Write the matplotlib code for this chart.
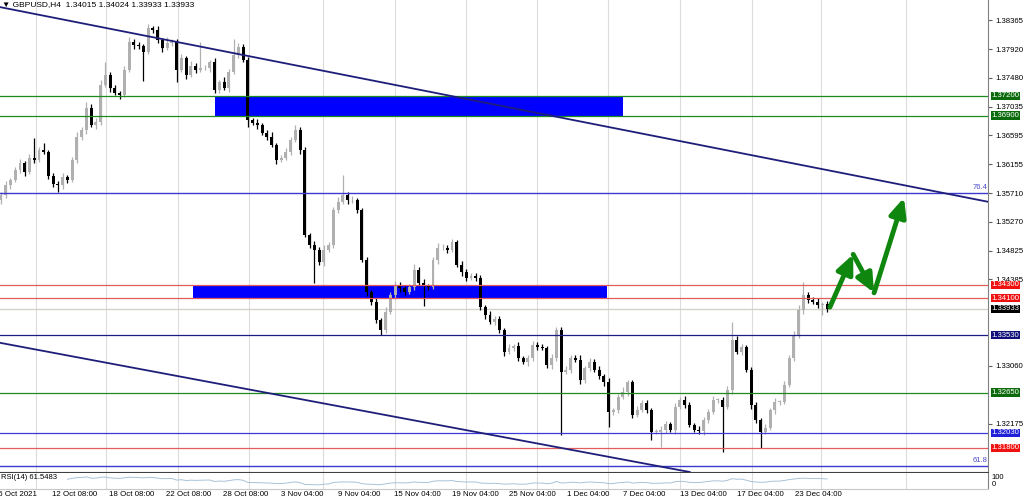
import numpy as np
import pandas as pd
import matplotlib
matplotlib.use("Agg")
import matplotlib.pyplot as plt
from matplotlib.patches import Rectangle
from matplotlib.transforms import blended_transform_factory

# GBPUSD H4, each drawn candle stands for about two H4 bars
first_open = 1.3560
closes = [
    1.3568, 1.3583, 1.3591, 1.3606, 1.3617, 1.3603, 1.3625, 1.3622, 1.3637, 1.3634,
    1.3597, 1.3585, 1.3583, 1.3596, 1.3591, 1.3622, 1.3657, 1.3668, 1.3702, 1.3675,
    1.3680, 1.3737, 1.3752, 1.3732, 1.3725, 1.3721, 1.3760, 1.3803, 1.3798, 1.3797,
    1.3787, 1.3824, 1.3821, 1.3806, 1.3794, 1.3801, 1.3803, 1.3760, 1.3778, 1.3752,
    1.3766, 1.3760, 1.3763, 1.3763, 1.3772, 1.3729, 1.3741, 1.3732, 1.3757, 1.3783,
    1.3795, 1.3775, 1.3683, 1.3679, 1.3675, 1.3663, 1.3657, 1.3645, 1.3622, 1.3625,
    1.3634, 1.3652, 1.3668, 1.3637, 1.3507, 1.3491, 1.3484, 1.3465, 1.3484, 1.3491,
    1.3545, 1.3557, 1.3568, 1.3560, 1.3560, 1.3545, 1.3468, 1.3419, 1.3404, 1.3376,
    1.3361, 1.3389, 1.3415, 1.3430, 1.3425, 1.3419, 1.3427, 1.3453, 1.3433, 1.3428,
    1.3427, 1.3468, 1.3487, 1.3487, 1.3484, 1.3496, 1.3461, 1.3450, 1.3441, 1.3444,
    1.3441, 1.3396, 1.3384, 1.3373, 1.3378, 1.3361, 1.3327, 1.3333, 1.3336, 1.3318,
    1.3312, 1.3318, 1.3338, 1.3335, 1.3333, 1.3307, 1.3318, 1.3361, 1.3297, 1.3300,
    1.3318, 1.3315, 1.3284, 1.3303, 1.3312, 1.3300, 1.3290, 1.3281, 1.3235, 1.3238,
    1.3258, 1.3266, 1.3281, 1.3231, 1.3238, 1.3249, 1.3238, 1.3205, 1.3205, 1.3208,
    1.3217, 1.3208, 1.3243, 1.3254, 1.3246, 1.3215, 1.3208, 1.3206, 1.3223, 1.3235,
    1.3254, 1.3254, 1.3243, 1.3269, 1.3346, 1.3327, 1.3335, 1.3300, 1.3246, 1.3223,
    1.3205, 1.3211, 1.3238, 1.3251, 1.3251, 1.3277, 1.3318, 1.3353, 1.3392, 1.3415,
    1.3407, 1.3404, 1.3399, 1.3401, 1.33933,
]
# wick lengths in pips above / below the body
up_wick = [
    4, 6, 3, 5, 7, 3, 6, 30, 4, 11, 3, 5, 4, 6, 3, 5, 7, 4, 9, 5, 6, 8, 20, 4, 5,
    3, 6, 8, 4, 5, 3, 7, 4, 6, 3, 9, 5, 4, 6, 3, 7, 4, 40, 5, 3, 6, 4, 8, 5, 25,
    6, 4, 5, 3, 6, 4, 5, 7, 3, 4, 6, 5, 8, 4, 5, 3, 6, 4, 7, 5, 4, 8, 31, 5, 6,
    4, 3, 5, 4, 6, 3, 7, 5, 6, 4, 3, 5, 9, 4, 6, 3, 5, 8, 6, 4, 5, 3, 6, 4, 5,
    4, 5, 3, 6, 4, 5, 3, 6, 4, 7, 3, 5, 6, 4, 5, 3, 6, 5, 4, 6, 5, 4, 7, 3, 6,
    4, 5, 3, 6, 4, 5, 7, 4, 3, 6, 4, 5, 3, 4, 6, 5, 3, 6, 4, 5, 4, 3, 6, 5, 4,
    5, 3, 4, 6, 27, 5, 4, 3, 4, 5, 3, 6, 4, 5, 3, 5, 4, 6, 8, 20, 5, 4, 6, 3, 4,
]
down_wick = [
    6, 4, 5, 3, 4, 6, 3, 5, 4, 3, 5, 4, 11, 6, 4, 3, 5, 4, 6, 3, 5, 4, 3, 6, 4,
    5, 3, 4, 6, 5, 44, 3, 5, 4, 6, 3, 5, 19, 4, 6, 3, 5, 4, 3, 6, 4, 5, 3, 6, 4,
    5, 3, 10, 4, 6, 3, 5, 4, 6, 3, 4, 5, 3, 6, 4, 5, 51, 4, 6, 3, 5, 4, 3, 6, 4,
    5, 3, 6, 4, 5, 8, 4, 3, 6, 5, 4, 3, 5, 4, 31, 5, 3, 6, 4, 5, 3, 4, 6, 5, 3,
    5, 4, 6, 3, 5, 4, 6, 3, 5, 4, 3, 6, 4, 5, 3, 4, 6, 5, 97, 4, 5, 3, 6, 4, 5,
    3, 4, 6, 23, 5, 4, 3, 6, 5, 4, 3, 5, 13, 4, 24, 5, 3, 6, 4, 5, 3, 4, 5, 6, 4,
    3, 5, 69, 4, 6, 3, 5, 4, 6, 5, 25, 4, 3, 6, 5, 4, 3, 5, 4, 6, 5, 3, 4, 15, 4,
]

# horizontal levels and their label colours
level_prices = [1.37200, 1.36900, 1.34300, 1.34100, 1.33530, 1.32650, 1.32030, 1.31800]
level_kinds = ["green", "green", "red", "red", "navy", "green", "blue", "red"]
current_price = 1.33933

fib_prices = [1.35710, 1.31523]
fib_labels = ["76.4", "61.8"]

# supply / demand zones (bar index from, bar index to, low, high)
zone_start = [45.1, 40.4]
zone_end = [131.0, 127.7]
zone_low = [1.3690, 1.3410]
zone_high = [1.3720, 1.3430]

# channel lines, two anchor points each (bar index, price)
trend_upper = [(0, 1.3856), (200, 1.3569)]
trend_lower = [(0, 1.3341), (140, 1.3150)]

# projected path drawn with the green arrows
arrow_x = [174.6, 179.5, 183.9, 190.2]
arrow_y = [1.3396, 1.3477, 1.3418, 1.3564]

price_ticks = [1.38365, 1.37920, 1.37480, 1.37035, 1.36595, 1.36155, 1.35710,
               1.35270, 1.34825, 1.34385, 1.33060, 1.32175]
time_pos = [3.0, 15.4, 27.6, 39.6, 51.6, 63.4, 75.4, 87.8, 99.9, 111.9, 123.7,
            135.4, 147.9, 159.9, 172.1]
time_labels = ["06 Oct 2021", "12 Oct 08:00", "18 Oct 08:00", "22 Oct 08:00",
               "28 Oct 08:00", "3 Nov 04:00", "9 Nov 04:00", "15 Nov 04:00",
               "19 Nov 04:00", "25 Nov 04:00", "1 Dec 04:00", "7 Dec 04:00",
               "13 Dec 04:00", "17 Dec 04:00", "23 Dec 04:00"]
grid_pos = [7.4, 22.1, 37.3, 52.2, 67.8, 83.0, 98.0, 112.9, 127.9, 143.0, 158.2,
            172.7, 190.6]

line_col = {"green": "#1f8a1f", "red": "#e35b5b", "navy": "#1c1c88", "blue": "#3b3bdc"}
box_col = {"green": "#0b6b0b", "red": "#f01010", "navy": "#10107a", "blue": "#2020d8"}

plt.rcParams["font.family"] = ["Liberation Sans", "DejaVu Sans"]

fig = plt.figure(figsize=(10.24, 4.99), dpi=100)
ax = fig.add_axes([0, 27 / 499, 988 / 1024, 472 / 499])
rsi_ax = fig.add_axes([0, 10 / 499, 988 / 1024, 16 / 499])

xmin, xmax = -0.21, 207.9
ax.set_xlim(xmin, xmax)
ax.set_ylim(1.31431, 1.38672)
rsi_ax.set_xlim(xmin, xmax)
rsi_ax.set_ylim(-10, 110)

# candles
c = np.array(closes)
o = np.r_[first_open, c[:-1]]
x = np.arange(len(c))
top = np.maximum(o, c)
bot = np.minimum(o, c)
hi = top + np.array(up_wick) * 1e-4
lo = bot - np.array(down_wick) * 1e-4
cols = np.where(c >= o, "#b0b0b0", "#000000")
ax.vlines(x, lo, hi, colors=cols, lw=0.9, zorder=3)
ax.bar(x, np.maximum(top - bot, 0.00005), bottom=bot, width=0.62, color=cols,
       lw=0, zorder=3)

# zones
for x0, x1, lo_, hi_ in zip(zone_start, zone_end, zone_low, zone_high):
    ax.add_patch(Rectangle((x0, lo_), x1 - x0, hi_ - lo_, fc="#0000ff", ec="none",
                           zorder=2))

# vertical grid
for g in grid_pos:
    ax.axvline(g, color="#dcdcdc", lw=0.8, zorder=0)
    rsi_ax.axvline(g, color="#dcdcdc", lw=0.8, zorder=0)

trans = blended_transform_factory(ax.transAxes, ax.transData)

# horizontal levels with coloured price tags
ax.axhline(current_price, color="#d6d2ca", lw=1.0, zorder=1)
tag = dict(transform=trans, ha="left", va="center", color="white", fontsize=5.6,
           clip_on=False)
for p, k in zip(level_prices, level_kinds):
    ax.axhline(p, color=line_col[k], lw=0.9, zorder=4)
    ax.text(1.0035, p, f"{p:.5f}",
            bbox=dict(boxstyle="square,pad=0.1", fc=box_col[k], ec="none"), **tag)
ax.text(1.0035, current_price, f"{current_price:.5f}",
        bbox=dict(boxstyle="square,pad=0.1", fc="#000000", ec="none"), **tag)

for p, lab in zip(fib_prices, fib_labels):
    ax.axhline(p, color="#3b3bd0", lw=1.0, zorder=4)
    ax.text(0.999, p + 0.00025, lab, transform=trans, ha="right", va="bottom",
            color="#4a4ac8", fontsize=5.5)

# channel
ax.axline(trend_upper[0], trend_upper[1], color="#1e1e7a", lw=1.3, zorder=4)
ax.axline(trend_lower[0], trend_lower[1], color="#1e1e7a", lw=1.3, zorder=4)

# projected path
for k in range(len(arrow_x) - 1):
    ax.annotate("", xy=(arrow_x[k + 1], arrow_y[k + 1]), xytext=(arrow_x[k], arrow_y[k]),
                arrowprops=dict(arrowstyle="-|>,head_length=0.8,head_width=0.36",
                                color="#0f870f", lw=3.5, mutation_scale=14,
                                shrinkA=0, shrinkB=0), zorder=5)

# right price scale
ax.yaxis.tick_right()
ax.set_yticks(price_ticks)
ax.set_yticklabels([f"{v:.5f}" for v in price_ticks])
ax.tick_params(axis="y", labelsize=5.6, length=3, pad=2, color="#606060")
ax.tick_params(axis="x", bottom=False, labelbottom=False)
for s in ["left", "top"]:
    ax.spines[s].set_visible(False)
ax.spines["right"].set_color("#808080")
ax.spines["bottom"].set_color("#404040")

# RSI panel
delta = np.diff(c, prepend=first_open)
gain = pd.Series(np.clip(delta, 0, None)).ewm(alpha=1 / 14, adjust=False).mean()
loss = pd.Series(np.clip(-delta, 0, None)).ewm(alpha=1 / 14, adjust=False).mean()
rsi = 100 - 100 / (1 + gain / loss)
rsi_ax.plot(x[14:], rsi[14:], color="#a8c2d8", lw=0.7)
rsi_ax.text(0.001, 0.95, "RSI(14) 61.5483", transform=rsi_ax.transAxes, va="top",
            fontsize=5.5)
rsi_ax.text(1.004, 0.72, "100", transform=rsi_ax.transAxes, va="center", fontsize=5.5)
rsi_ax.text(1.004, 0.28, "0", transform=rsi_ax.transAxes, va="center", fontsize=5.5)
rsi_ax.set_yticks([])
rsi_ax.set_xticks(time_pos)
rsi_ax.set_xticklabels(time_labels)
rsi_ax.tick_params(axis="x", length=0, pad=1.5, labelsize=5.7)
rsi_ax.spines["left"].set_visible(False)
rsi_ax.spines["top"].set_visible(False)
rsi_ax.spines["right"].set_color("#808080")
rsi_ax.spines["bottom"].set_color("#c8c8c8")

fig.text(0.002, 0.997, "\u25bc GBPUSD,H4  1.34015 1.34024 1.33933 1.33933", va="top",
         fontsize=6)

fig.savefig("out.png", dpi=100)
